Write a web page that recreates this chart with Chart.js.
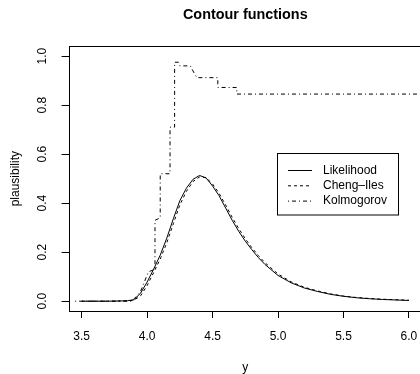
<!DOCTYPE html>
<html>
<head>
<meta charset="utf-8">
<script src="https://cdn.jsdelivr.net/npm/chart.js@4"></script>
<style>
  html, body { margin: 0; padding: 0; background: #fff; overflow: hidden; }
  #wrap { width: 420px; height: 374px; overflow: hidden; }
</style>
</head>
<body>
<div id="wrap"><canvas id="my_chart" width="422" height="374"></canvas></div>
<script>
// grid of y values for the two smooth contours
const yGrid = [3.5, 3.6, 3.7, 3.8, 3.85, 3.9, 3.95, 4.0, 4.05, 4.1, 4.15, 4.2, 4.25,
  4.3, 4.35, 4.4, 4.45, 4.5, 4.55, 4.6, 4.65, 4.7, 4.75, 4.8, 4.85, 4.9,
  5.0, 5.1, 5.2, 5.3, 5.4, 5.5, 5.6, 5.7, 5.8, 5.9, 6.0];
const likelihood = [0, 0, 0, 0.001, 0.002, 0.006, 0.033, 0.078, 0.131, 0.188, 0.257, 0.336, 0.41,
  0.461, 0.497, 0.513, 0.503, 0.47, 0.43, 0.38, 0.33, 0.285, 0.245, 0.21, 0.178, 0.15,
  0.105, 0.075, 0.054, 0.04, 0.028, 0.02, 0.014, 0.01, 0.007, 0.005, 0.003];
const chengIles = [0, 0, 0, 0.001, 0.002, 0.004, 0.022, 0.064, 0.117, 0.172, 0.238, 0.316, 0.393,
  0.448, 0.488, 0.507, 0.504, 0.478, 0.44, 0.392, 0.342, 0.296, 0.255, 0.218, 0.186, 0.157,
  0.111, 0.079, 0.057, 0.042, 0.03, 0.021, 0.015, 0.011, 0.008, 0.006, 0.004];

// Kolmogorov contour is a step function
const kolmX = [3.45, 3.88, 3.92, 3.95, 3.98, 4.01, 4.06, 4.06, 4.10, 4.10, 4.175, 4.175,
  4.21, 4.21, 4.24, 4.25, 4.33, 4.36, 4.38, 4.54, 4.54, 4.685, 4.685, 6.1];
const kolmY = [0, 0, 0.02, 0.04, 0.08, 0.12, 0.13, 0.33, 0.34, 0.52, 0.52, 0.71,
  0.71, 0.975, 0.975, 0.96, 0.96, 0.93, 0.912, 0.912, 0.872, 0.872, 0.845, 0.845];

const xTicks = [3.5, 4.0, 4.5, 5.0, 5.5, 6.0];
const yTicks = [0, 0.2, 0.4, 0.6, 0.8, 1.0];

const FONT = '"Liberation Sans", Arial, Helvetica, sans-serif';

const pts = (xs, ys) => xs.map((x, i) => ({ x: x, y: ys[i] }));

// R style plot box + legend in the upper right
const boxPlugin = {
  id: 'rbox',
  afterDraw(chart) {
    const { ctx, chartArea: a } = chart;
    ctx.save();
    ctx.strokeStyle = '#000';
    ctx.lineWidth = 1;
    ctx.setLineDash([]);
    ctx.strokeRect(Math.round(a.left) + 0.5, Math.round(a.top) + 0.5,
      Math.round(a.right - a.left), Math.round(a.bottom - a.top));

    // legend
    const lx = 277.5, ly = 153.5, lw = 121, lh = 61.5;
    ctx.fillStyle = '#fff';
    ctx.fillRect(lx, ly, lw, lh);
    ctx.strokeRect(lx, ly, lw, lh);
    ctx.font = '12px ' + FONT;
    ctx.textBaseline = 'middle';
    ctx.textAlign = 'left';
    chart.data.datasets.forEach((ds, i) => {
      const yy = 170.5 + i * 15.3;
      ctx.beginPath();
      ctx.setLineDash(ds.borderDash || []);
      ctx.moveTo(288, yy);
      ctx.lineTo(312, yy);
      ctx.stroke();
      ctx.setLineDash([]);
      ctx.fillStyle = '#000';
      ctx.fillText(ds.label, 323, yy);
    });
    ctx.restore();
  }
};

const ctx = document.getElementById('my_chart').getContext('2d');

const config = {
  type: 'scatter',
  data: {
    datasets: [
      {
        label: 'Likelihood',
        data: pts(yGrid, likelihood),
        borderColor: '#000',
        borderWidth: 1,
        showLine: true,
        pointRadius: 0,
        tension: 0
      },
      {
        label: 'Cheng\u2013Iles',
        data: pts(yGrid, chengIles),
        borderColor: '#000',
        borderWidth: 1,
        borderDash: [3, 3],
        showLine: true,
        pointRadius: 0,
        tension: 0
      },
      {
        label: 'Kolmogorov',
        data: pts(kolmX, kolmY),
        borderColor: '#000',
        borderWidth: 1,
        borderDash: [1, 3, 4, 3],
        showLine: true,
        pointRadius: 0,
        tension: 0
      }
    ]
  },
  options: {
    responsive: false,
    animation: false,
    layout: { padding: 0 },
    plugins: {
      legend: { display: false },
      tooltip: { enabled: false },
      title: {
        display: true,
        fullSize: false,
        text: 'Contour functions',
        color: '#000',
        font: { family: FONT, size: 14.4, weight: 'bold', lineHeight: 1.2 },
        padding: { top: 6, bottom: 23 }
      }
    },
    scales: {
      x: {
        type: 'linear',
        min: 3.4,
        max: 6.1,
        afterBuildTicks: s => { s.ticks = xTicks.map(v => ({ value: v })); },
        afterFit: s => { s.height = 63; s.paddingLeft = 0; s.paddingRight = 0; },
        grid: { display: true, drawOnChartArea: false, drawTicks: true, tickLength: 7, color: '#000' },
        border: { display: false },
        ticks: {
          color: '#000',
          font: { family: FONT, size: 12 },
          padding: 11,
          maxRotation: 0,
          autoSkip: false,
          callback: v => v.toFixed(1)
        },
        title: {
          display: true,
          text: 'y',
          color: '#000',
          font: { family: FONT, size: 12, lineHeight: 1.2 },
          padding: { top: 0, bottom: -1 }
        }
      },
      y: {
        type: 'linear',
        min: -0.04,
        max: 1.04,
        afterBuildTicks: s => { s.ticks = yTicks.map(v => ({ value: v })); },
        afterFit: s => { s.width = 68.6; s.paddingTop = 0; s.paddingBottom = 0; },
        grid: { display: true, drawOnChartArea: false, drawTicks: true, tickLength: 7, color: '#000' },
        border: { display: false },
        ticks: {
          color: '#000',
          font: { family: FONT, size: 12 },
          padding: 11,
          minRotation: 90,
          maxRotation: 90,
          crossAlign: 'center',
          autoSkip: false,
          callback: v => v.toFixed(1)
        },
        title: {
          display: true,
          text: 'plausibility',
          color: '#000',
          font: { family: FONT, size: 12, lineHeight: 1.2 },
          padding: { top: 8, bottom: 0 }
        }
      }
    }
  },
  plugins: [boxPlugin]
};

const myChart = new Chart(ctx, config);
</script>
</body>
</html>
